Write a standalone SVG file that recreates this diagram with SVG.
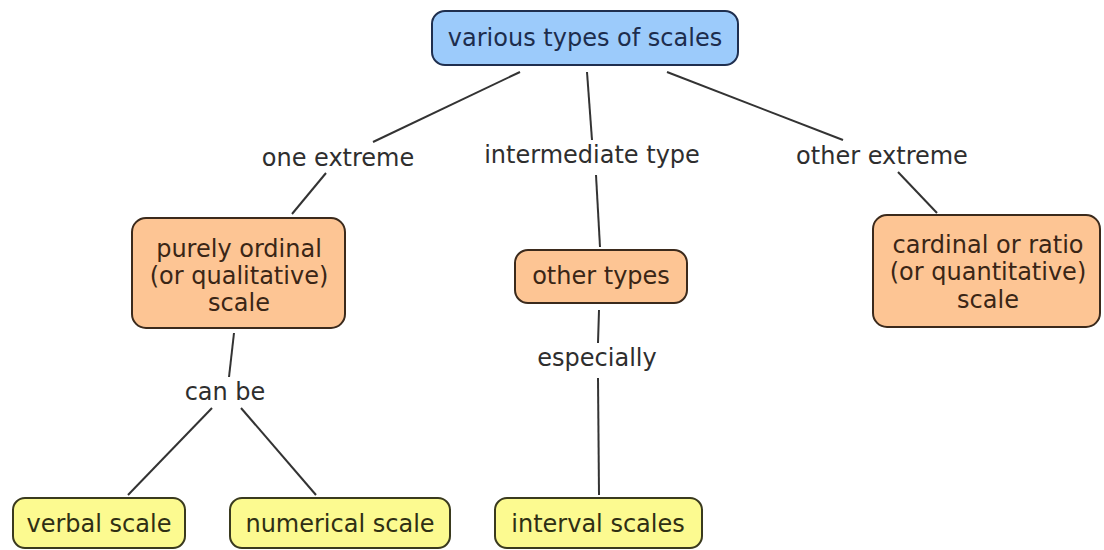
<svg xmlns="http://www.w3.org/2000/svg" width="1104" height="550" viewBox="0 0 1104 550">
<style>
text{font-family:"DejaVu Sans","Liberation Sans",sans-serif;font-size:24px;text-anchor:middle}
.lbl{fill:#2e2e2e}
.blue rect{fill:#9ccbfb;stroke:#1f2f4f;stroke-width:2}
.blue text{fill:#1d2d4d}
.orange rect{fill:#fdc594;stroke:#3b2a1c;stroke-width:2}
.orange text{fill:#3a2616}
.yellow rect{fill:#fcfa90;stroke:#3a3a1e;stroke-width:2}
.yellow text{fill:#2f2f14}
#connectors line{stroke:#333;stroke-width:2}
</style>
<rect width="1104" height="550" fill="#ffffff"/>
<g id="connectors">
<line x1="520" y1="72" x2="373" y2="142"/>
<line x1="326" y1="173" x2="292" y2="214"/>
<line x1="587" y1="72" x2="592" y2="140"/>
<line x1="596" y1="175" x2="600" y2="247"/>
<line x1="667" y1="72" x2="843" y2="140"/>
<line x1="898" y1="172" x2="937" y2="213"/>
<line x1="234" y1="333" x2="229" y2="377"/>
<line x1="212" y1="408" x2="128" y2="495"/>
<line x1="241" y1="408" x2="316" y2="495"/>
<line x1="599" y1="310" x2="598" y2="343"/>
<line x1="598" y1="378" x2="599" y2="495"/>
</g>
<g id="labels">
<text class="lbl" x="338" y="166">one extreme</text>
<text class="lbl" x="592" y="163">intermediate type</text>
<text class="lbl" x="882" y="164">other extreme</text>
<text class="lbl" x="225" y="400">can be</text>
<text class="lbl" x="597" y="366">especially</text>
</g>
<g id="n-various" class="blue">
<rect x="432" y="11" width="306" height="54" rx="13"/>
<text x="585" y="46">various types of scales</text>
</g>
<g id="n-ordinal" class="orange">
<rect x="132" y="218" width="213" height="110" rx="14"/>
<text x="239" y="257">purely ordinal</text>
<text x="239" y="284">(or qualitative)</text>
<text x="239" y="311">scale</text>
</g>
<g id="n-other" class="orange">
<rect x="515" y="250" width="172" height="53" rx="13"/>
<text x="601" y="284">other types</text>
</g>
<g id="n-cardinal" class="orange">
<rect x="873" y="215" width="227" height="112" rx="14"/>
<text x="988" y="253">cardinal or ratio</text>
<text x="988" y="280">(or quantitative)</text>
<text x="988" y="308">scale</text>
</g>
<g id="n-verbal" class="yellow">
<rect x="13" y="498" width="172" height="50" rx="12"/>
<text x="99" y="532">verbal scale</text>
</g>
<g id="n-numerical" class="yellow">
<rect x="230" y="498" width="220" height="50" rx="12"/>
<text x="340" y="532">numerical scale</text>
</g>
<g id="n-interval" class="yellow">
<rect x="495" y="498" width="207" height="50" rx="12"/>
<text x="598" y="532">interval scales</text>
</g>
</svg>
